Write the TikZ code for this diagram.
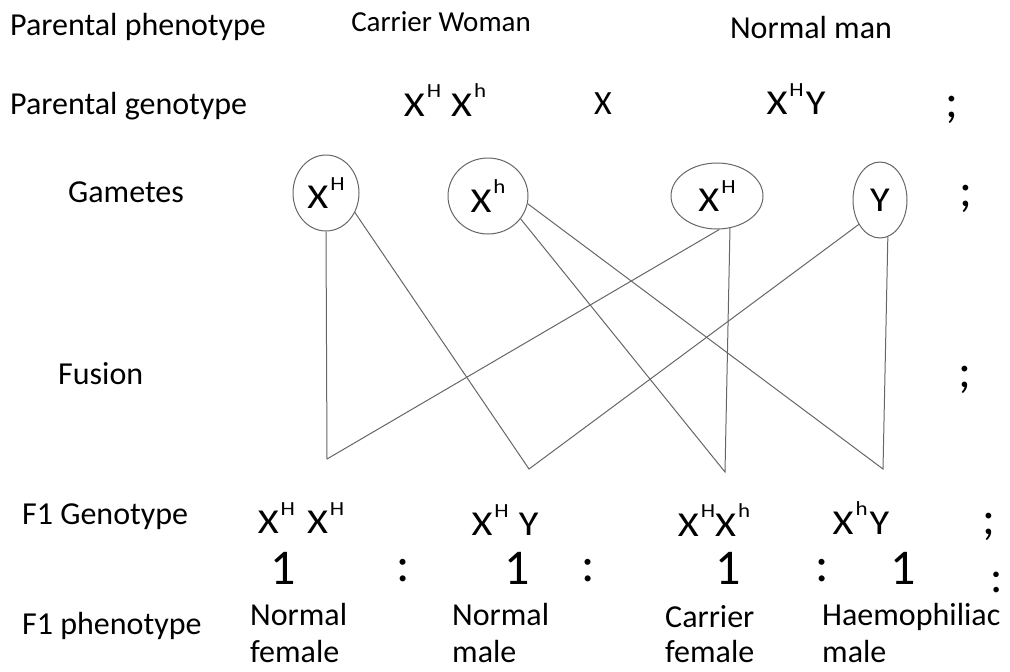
\documentclass[tikz,border=0pt]{standalone}
\usepackage{fontspec}
\setmainfont{Carlito}
\newfontfamily\gfont[FakeStretch=1.15]{Carlito}
\usetikzlibrary{shapes.geometric}
\newcommand\gsup[1]{\hspace{2pt}\raisebox{0.52em}{\fontsize{20}{20}\selectfont #1}}
\tikzset{
  lbl/.style={font=\fontsize{32}{37}\selectfont, inner sep=0pt, anchor=west, align=left},
  gen/.style={font=\gfont\fontsize{35}{38}\selectfont, inner sep=0pt},
  num/.style={font=\fontsize{50}{50}\selectfont, inner sep=0pt},
  semi/.style={font=\fontsize{48}{48}\selectfont, inner sep=0pt},
  gam/.style={ellipse, draw=black!60, line width=1pt, inner sep=0pt, font=\gfont\fontsize{35}{38}\selectfont},
  conn/.style={draw=black!60, line width=1pt}
}
\begin{document}
\begin{tikzpicture}[x=1pt,y=-1pt]
\useasboundingbox (0,0) rectangle (1010,672);
% row 1
\node[lbl] (pp) at (10,27) {Parental phenotype};
\node[lbl,font=\fontsize{29}{34}\selectfont,anchor=center] (cw) at (441,22) {Carrier Woman};
\node[lbl,anchor=center] (nm) at (811,28) {Normal man};
% row 2
\node[lbl] (pg) at (10,106) {Parental genotype};
\node[gen] (g1) at (445,100) {X\gsup{H}\hspace{10pt}X\gsup{h}};
\node[gen,font=\fontsize{34}{38}\selectfont] (cross) at (603,104) {X};
\node[gen] (g2) at (796,99) {X\gsup{H}\hspace{2pt}Y};
\node[semi] (s1) at (952,110) {;};
% gametes
\node[lbl] (gm) at (68,192) {Gametes};
\node[gam,minimum width=66pt,minimum height=76pt] (e1) at (326,193) {X\gsup{H}};
\node[gam,minimum width=80pt,minimum height=76pt] (e2) at (488,196) {X\gsup{h}};
\node[gam,minimum width=92pt,minimum height=66pt] (e3) at (717,196) {X\gsup{H}};
\node[gam,minimum width=54pt,minimum height=76pt] (e4) at (880,200) {Y};
\node[semi] (s2) at (966,199) {;};
% fusion
\node[lbl] (fu) at (58,374) {Fusion};
\node[semi] (s3) at (965,380) {;};
% vertices
\coordinate (v1) at (327,459);
\coordinate (v2) at (529,469);
\coordinate (v3) at (725,472);
\coordinate (v4) at (883,469);
\draw[conn] (e1.south) -- (v1) -- (e3.-86);
\draw[conn] (e1.-34) -- (v2) -- (e4.-131);
\draw[conn] (e2.-35) -- (v3) -- (e3.-68);
\draw[conn] (e2.-11) -- (v4) -- (e4.-78);
% F1 genotype
\node[lbl] (fg) at (22,517) {F1 Genotype};
\node[gen] (c1) at (301,518) {X\gsup{H}\hspace{12pt}X\gsup{H}};
\node[gen] (c2) at (505,520) {X\gsup{H}\hspace{10pt}Y};
\node[gen] (c3) at (714,520) {X\gsup{H}X\gsup{h}};
\node[gen] (c4) at (861,518) {X\gsup{h}\hspace{2pt}Y};
\node[semi] (s4) at (989,527) {;};
% ratio
\node[num] (r1) at (283,568) {1};
\node[num] (k1) at (403,571) {:};
\node[num] (r2) at (517,568) {1};
\node[num] (k2) at (588,571) {:};
\node[num] (r3) at (728,568) {1};
\node[num] (k3) at (822,571) {:};
\node[num] (r4) at (903,568) {1};
\node[num,font=\fontsize{46}{46}\selectfont] (k4) at (997,582) {:};
% F1 phenotype
\node[lbl] (fp) at (22,626) {F1 phenotype};
\node[lbl] (p1) at (250,633) {Normal\\female};
\node[lbl] (p2) at (452,633) {Normal\\male};
\node[lbl,font=\fontsize{32}{35}\selectfont] (p3) at (665,634) {Carrier\\female};
\node[lbl] (p4) at (822,633) {Haemophiliac\\male};
\end{tikzpicture}
\end{document}
